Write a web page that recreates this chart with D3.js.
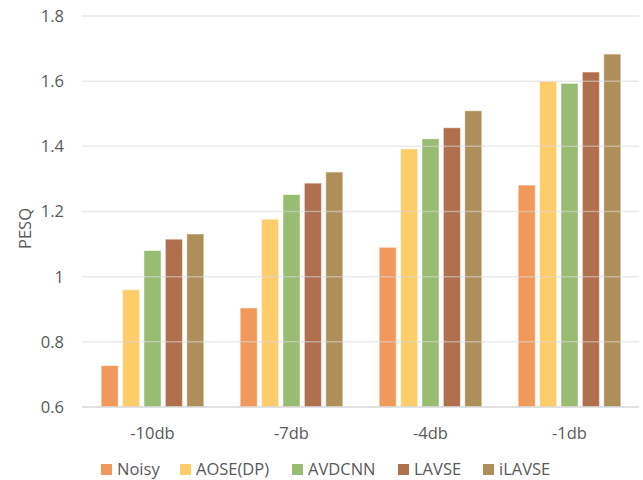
<!DOCTYPE html>
<html>
<head>
<meta charset="utf-8">
<script src="https://cdn.jsdelivr.net/npm/d3@7/dist/d3.min.js"></script>
<style>
  html, body { margin: 0; padding: 0; background: #fff; }
  svg { display: block; font-family: "Open Sans", sans-serif; }
</style>
</head>
<body>
<svg id="chart" width="643" height="480"></svg>
<script>
// PESQ scores per SNR condition
const categories = ["-10db", "-7db", "-4db", "-1db"];
const seriesNames = ["Noisy", "AOSE(DP)", "AVDCNN", "LAVSE", "iLAVSE"];
const noisy   = [0.727, 0.904, 1.090, 1.281];
const aoseDp  = [0.960, 1.176, 1.392, 1.599];
const avdcnn  = [1.080, 1.252, 1.423, 1.593];
const lavse   = [1.115, 1.287, 1.457, 1.628];
const ilavse  = [1.131, 1.321, 1.509, 1.683];
const yTicks  = [0.6, 0.8, 1.0, 1.2, 1.4, 1.6, 1.8];
const colors  = ["#F0995B", "#FDCD69", "#97BC72", "#B06F4D", "#AE8F5A"];

const series = [noisy, aoseDp, avdcnn, lavse, ilavse];

const svg = d3.select("#chart");
const plot = { left: 83, right: 639, top: 16, bottom: 407 };

const x = d3.scaleBand().domain(categories).range([plot.left, plot.right]).padding(0);
const slot = 21.4, barW = 17;

const y = d3.scaleLinear().domain([0.6, 1.8]).range([plot.bottom, plot.top]);

const textColor = "#595959";

// bars
const groups = svg.append("g").selectAll("g")
  .data(categories)
  .join("g")
  .attr("transform", d => `translate(${x(d) + x.bandwidth() / 2},0)`);

groups.selectAll("rect")
  .data((c, ci) => series.map((s, si) => ({ si, v: s[ci] })))
  .join("rect")
  .attr("x", d => (d.si - 2.5) * slot + (slot - barW) / 2)
  .attr("width", barW)
  .attr("y", d => y(d.v))
  .attr("height", d => y(0.6) - y(d.v))
  .attr("fill", d => colors[d.si])
  .attr("stroke", "#fff")
  .attr("stroke-opacity", 0.45)
  .attr("stroke-width", 1);

// horizontal gridlines, drawn over the bars
svg.append("g").selectAll("line")
  .data(yTicks)
  .join("line")
  .attr("x1", plot.left - 1)
  .attr("x2", plot.right)
  .attr("y1", d => y(d))
  .attr("y2", d => y(d))
  .attr("stroke", "#d9d9d9")
  .attr("stroke-opacity", d => d === 0.6 ? 1 : 0.55)
  .attr("stroke-width", 1.5);

// y axis tick labels
svg.append("g").selectAll("text")
  .data(yTicks)
  .join("text")
  .attr("x", 64)
  .attr("y", d => y(d))
  .attr("dy", "0.36em")
  .attr("text-anchor", "end")
  .attr("fill", textColor)
  .attr("font-size", 16.5)
  .text(d => d3.format("~g")(d));

// y axis title
svg.append("text")
  .attr("transform", `translate(31,${(plot.top + plot.bottom) / 2 + 17}) rotate(-90)`)
  .attr("text-anchor", "middle")
  .attr("fill", textColor)
  .attr("font-size", 16.5)
  .text("PESQ");

// category labels
svg.append("g").selectAll("text")
  .data(categories)
  .join("text")
  .attr("x", d => x(d) + x.bandwidth() / 2)
  .attr("y", 438.5)
  .attr("text-anchor", "middle")
  .attr("fill", textColor)
  .attr("font-size", 16.5)
  .text(d => d);

// legend
const legendX = [101, 180, 292, 398, 483];
const legend = svg.append("g").selectAll("g")
  .data(seriesNames)
  .join("g")
  .attr("transform", (d, i) => `translate(${legendX[i]},464)`);
legend.append("rect")
  .attr("width", 11).attr("height", 11)
  .attr("fill", (d, i) => colors[i]);
legend.append("text")
  .attr("x", 16)
  .attr("y", 11)
  .attr("fill", textColor)
  .attr("font-size", 16.5)
  .text(d => d);
</script>
</body>
</html>
